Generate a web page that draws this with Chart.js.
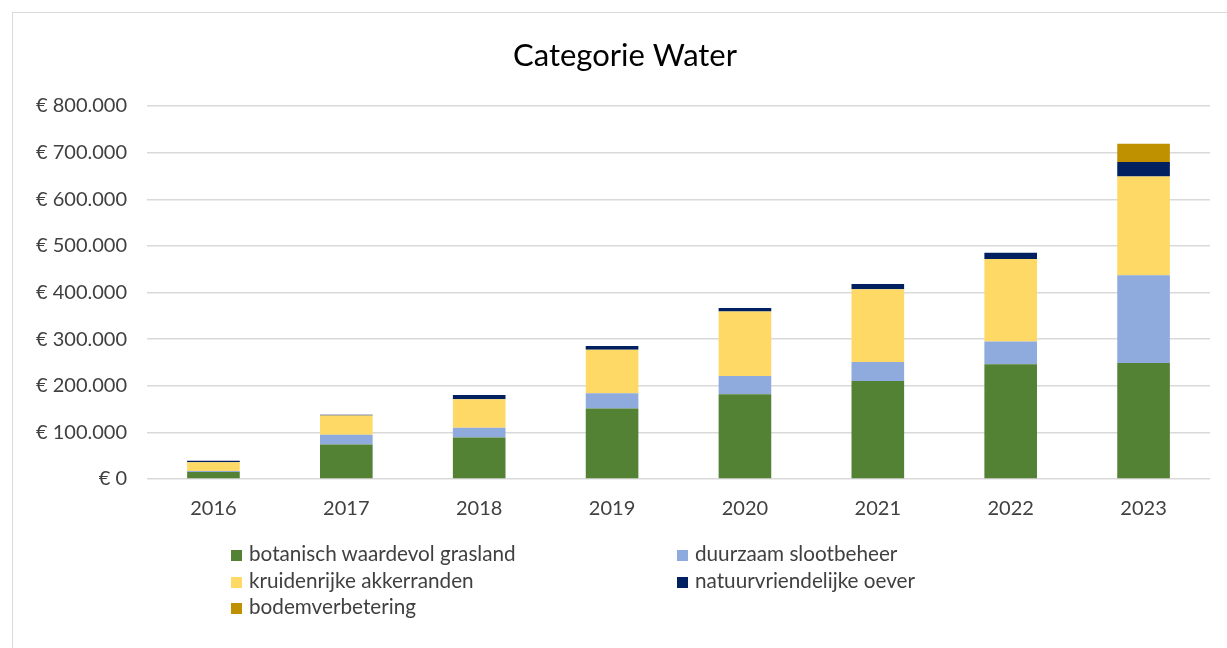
<!DOCTYPE html>
<html>
<head>
<meta charset="utf-8">
<script src="https://cdn.jsdelivr.net/npm/chart.js@4"></script>
<style>
    body { margin: 0; background: #fff; }
    #wrap { position: relative; width: 1227px; height: 648px; overflow: hidden; }
    #frame { position: absolute; left: 12px; top: 12px; width: 1240px; height: 660px; border: 1px solid #d9d9d9; box-sizing: border-box; }
    #chart { position: absolute; left: 0; top: 0; }
    #legend { position: absolute; left: 231px; top: 540px; display: grid; grid-template-columns: 446px 300px; font-family: Lato, "Liberation Sans", sans-serif; font-size: 20.7px; color: #404040; }
    #legend div { height: 26.7px; line-height: 26.7px; white-space: nowrap; }
    #legend span.box { display: inline-block; width: 11px; height: 11px; margin-right: 7px; vertical-align: 0px; }
</style>
</head>
<body>
<div id="wrap">
    <div id="frame"></div>
    <canvas id="chart" width="1227" height="648"></canvas>
    <div id="legend"></div>
</div>
<script>
// Chart data
const chartTitle = 'Categorie Water';
const years = ['2016', '2017', '2018', '2019', '2020', '2021', '2022', '2023'];
const seriesNames = ['botanisch waardevol grasland', 'duurzaam slootbeheer', 'kruidenrijke akkerranden', 'natuurvriendelijke oever', 'bodemverbetering'];
const grasland = [15000, 74000, 89000, 151000, 182000, 210000, 246000, 249000];
const slootbeheer = [2000, 21000, 21000, 33000, 39000, 41000, 49000, 188000];
const akkerranden = [19000, 41000, 61000, 93000, 138000, 156000, 177000, 212000];
const oever = [3000, 2000, 9000, 8000, 8000, 11000, 13000, 31000];
const bodem = [0, 0, 0, 0, 0, 0, 0, 39000];
const yTicks = [0, 100000, 200000, 300000, 400000, 500000, 600000, 700000, 800000];

const colors = ['#548235', '#8faadc', '#ffd966', '#002060', '#bf9000'];
const seriesValues = [grasland, slootbeheer, akkerranden, oever, bodem];
const fontFamily = 'Lato, "Liberation Sans", sans-serif';

function euro(v) {
    return '€ ' + String(v).replace(/\B(?=(\d{3})+(?!\d))/g, '.');
}

// Title is centred on the original chart frame, which runs past the right edge
const titlePlugin = {
    id: 'frameTitle',
    afterDraw(chart) {
        const ctx = chart.ctx;
        ctx.save();
        ctx.font = `31px ${fontFamily}`;
        ctx.fillStyle = '#000';
        ctx.textAlign = 'center';
        ctx.textBaseline = 'middle';
        ctx.fillText(chartTitle, 625, 56);
        ctx.restore();
    }
};

const chart = new Chart(document.getElementById('chart').getContext('2d'), {
    type: 'bar',
    data: {
        labels: years,
        datasets: seriesNames.map((name, i) => ({
            label: name,
            data: seriesValues[i],
            backgroundColor: colors[i],
            borderWidth: 0,
            categoryPercentage: 1,
            barPercentage: 0.396
        }))
    },
    options: {
        responsive: false,
        animation: false,
        layout: { padding: { left: 0, right: 17, top: 106, bottom: 0 } },
        plugins: {
            legend: { display: false },
            tooltip: { enabled: false },
            title: { display: false }
        },
        scales: {
            x: {
                stacked: true,
                grid: { display: false },
                border: { display: false },
                ticks: { color: '#404040', padding: 10, font: { family: fontFamily, size: 20 } },
                afterFit: (s) => { s.height = 169; }
            },
            y: {
                stacked: true,
                min: 0,
                max: 800000,
                afterBuildTicks: (s) => { s.ticks = yTicks.map(v => ({ value: v })); },
                grid: { color: '#d9d9d9', lineWidth: 1.5, drawTicks: false },
                border: { display: false },
                ticks: {
                    color: '#404040',
                    padding: 20,
                    font: { family: fontFamily, size: 20 },
                    callback: (v) => euro(v)
                },
                afterFit: (s) => { s.width = 147; }
            }
        }
    },
    plugins: [titlePlugin]
});

// Legend in two columns, built from the datasets
document.getElementById('legend').innerHTML = seriesNames.map((name, i) =>
    `<div><span class="box" style="background:${colors[i]}"></span>${name}</div>`
).join('');
</script>
</body>
</html>
